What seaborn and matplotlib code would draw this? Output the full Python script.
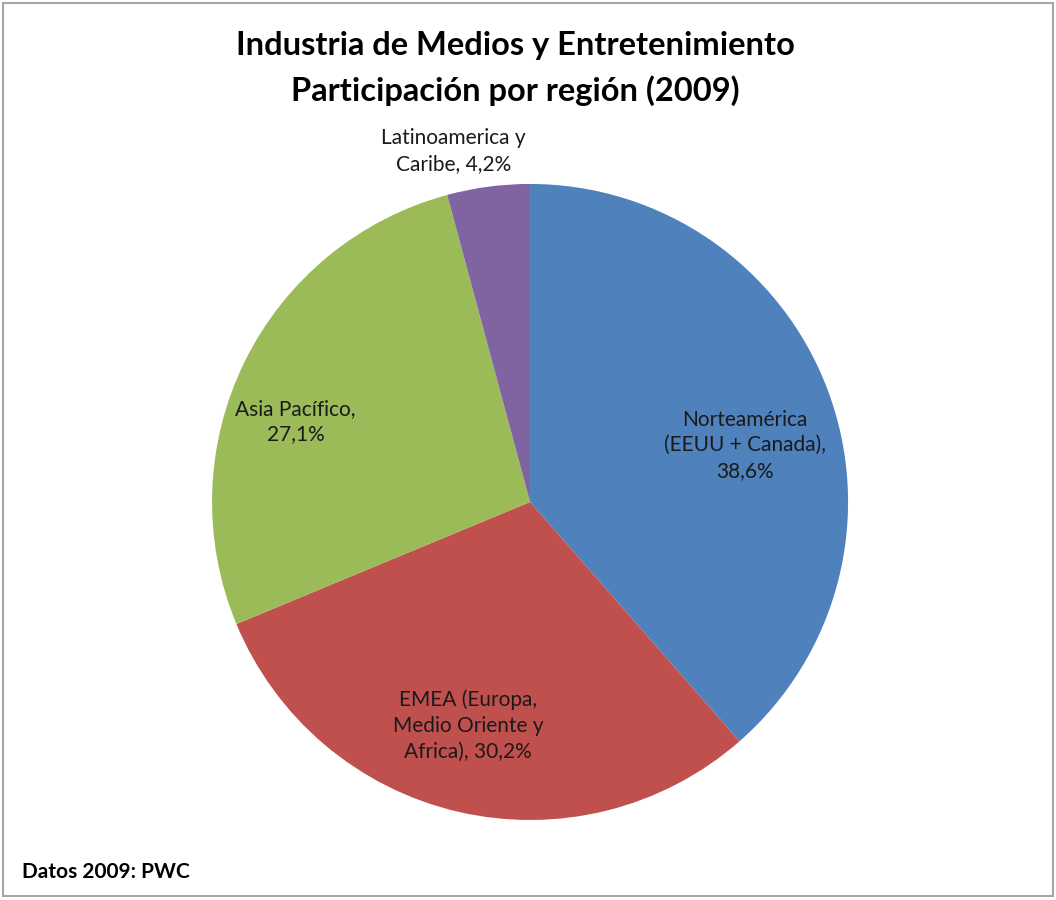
import numpy as np
import matplotlib
matplotlib.use('Agg')
import matplotlib.pyplot as plt
import seaborn as sns
from matplotlib.patches import Rectangle

# data
regions = ['Norteamérica\n(EEUU + Canada),', 'EMEA (Europa,\nMedio Oriente y\nAfrica),',
           'Asia Pacífico,\n', 'Latinoamerica y\nCaribe,']
shares = [38.6, 30.2, 27.1, 4.2]
share_labels = ['38,6%', '30,2%', '27,1%', '4,2%']

sns.set_theme(style='white')
plt.rcParams['font.family'] = ['Lato', 'DejaVu Sans']

colors = ['#4F81BD', '#C0504D', '#9BBB59', '#8064A2']

fig = plt.figure(figsize=(10.56, 9), dpi=100)
fig.patches.append(Rectangle((0.003, 0.004), 0.994, 0.993, transform=fig.transFigure,
                             fill=False, edgecolor='#A6A6A6', linewidth=1.5))

ax = fig.add_axes([0.2008, 0.0889, 0.6023, 0.7067])
wedges, _ = ax.pie(shares, colors=colors, startangle=90, counterclock=False,
                   wedgeprops=dict(linewidth=0))
ax.set_aspect('equal')
ax.set_xlim(-1, 1)
ax.set_ylim(-1, 1)

# label placement (radius factor, angle in degrees)
label_pos = [(0.70, 14.8), (0.73, -105.5), (0.78, 161.1), (1.13, 102.3)]
for name, lab, (r, ang) in zip(regions, share_labels, label_pos):
    if name.endswith(',\n'):
        txt = name + lab
    elif name.startswith('EMEA') or name.startswith('Latino'):
        txt = name + ' ' + lab
    else:
        txt = name + '\n' + lab
    a = np.deg2rad(ang)
    ax.text(r * np.cos(a), r * np.sin(a), txt, ha='center', va='center',
            fontsize=15, color='#1a1a1a', linespacing=1.35)

fig.text(0.488, 0.949, 'Industria de Medios y Entretenimiento', ha='center', va='center',
         fontsize=23.5, fontweight='bold', color='black')
fig.text(0.488, 0.899, 'Participación por región (2009)', ha='center', va='center',
         fontsize=23.5, fontweight='bold', color='black')
fig.text(0.021, 0.031, 'Datos 2009: PWC', ha='left', va='center',
         fontsize=15, fontweight='bold', color='black')

fig.savefig('out.png', dpi=100)
